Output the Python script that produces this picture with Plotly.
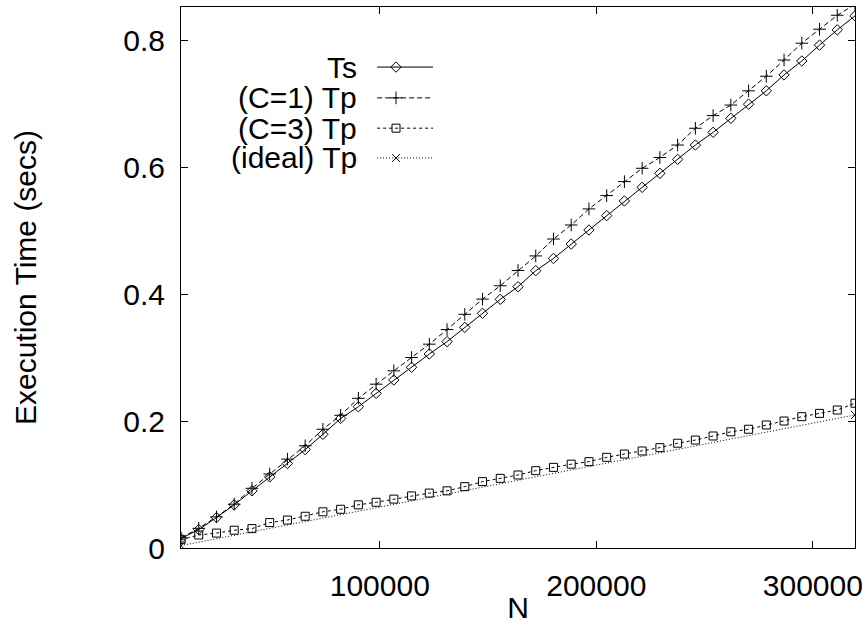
import plotly.graph_objects as go

# ---- data ----
N = [8192 * (i + 1) for i in range(39)]

ts = [0.015, 0.029, 0.048, 0.068, 0.090, 0.112, 0.133, 0.155, 0.179, 0.204,
      0.2225, 0.2436, 0.2646, 0.2846, 0.3055, 0.325, 0.3475, 0.3696, 0.3916, 0.4115,
      0.4367, 0.456, 0.4787, 0.5008, 0.5234, 0.5465, 0.568, 0.590, 0.612, 0.6346,
      0.6546, 0.6767, 0.699, 0.720, 0.745, 0.767, 0.792, 0.816, 0.838]

tp_c1 = [0.016, 0.031, 0.049, 0.069, 0.094, 0.1165, 0.140, 0.161, 0.187, 0.209,
         0.2357, 0.258, 0.279, 0.300, 0.321, 0.344, 0.368, 0.392, 0.413, 0.437,
         0.460, 0.4866, 0.5087, 0.534, 0.555, 0.577, 0.598, 0.615, 0.6346, 0.661,
         0.681, 0.6976, 0.720, 0.743, 0.7685, 0.795, 0.817, 0.839, 0.856]

tp_c3 = [0.013, 0.0205, 0.0235, 0.028, 0.0305, 0.040, 0.044, 0.050, 0.057, 0.061,
         0.068, 0.072, 0.077, 0.082, 0.0865, 0.090, 0.0966, 0.1045, 0.1097, 0.115,
         0.1218, 0.127, 0.132, 0.136, 0.1428, 0.148, 0.1528, 0.158, 0.165, 0.170,
         0.1764, 0.183, 0.187, 0.1937, 0.200, 0.2068, 0.212, 0.2173, 0.228]

ideal_n = [8192, 319488]
tp_ideal = [0.0038, 0.2095]

x_ticks = [100000, 200000, 300000]
y_ticks = [0, 0.2, 0.4, 0.6, 0.8]
y_tick_labels = ["0", "0.2", "0.4", "0.6", "0.8"]

labels = ["Ts", "(C=1) Tp", "(C=3) Tp", "(ideal) Tp"]

FONT = "Liberation Sans, Arial, sans-serif"
FS = 30

styles = [
    dict(dash="solid", symbol="diamond-open", size=8),
    dict(dash="5px,3px", symbol="cross-thin-open", size=9),
    dict(dash="3px,3px", symbol="square-open", size=8),
    dict(dash="1px,2px", symbol="x-thin-open", size=8),
]

series = [(N, ts), (N, tp_c1), (N, tp_c3), (ideal_n, tp_ideal)]

fig = go.Figure()
for (xs, ys), st, name in zip(series, styles, labels):
    fig.add_trace(go.Scatter(
        x=xs, y=ys, mode="lines+markers", name=name, showlegend=False,
        line=dict(color="black", width=1, dash=st["dash"]),
        marker=dict(symbol=st["symbol"], size=st["size"], color="black",
                    line=dict(color="black", width=1)),
        cliponaxis=True,
    ))

# ---- custom gnuplot-style key (text left, sample right) ----
key_y = [0.889, 0.832, 0.776, 0.721]
key_text_x = 0.264
key_line_x = [0.291, 0.374]
key_mark_x = 0.319
for st, name, ky in zip(styles, labels, key_y):
    fig.add_trace(go.Scatter(
        x=key_line_x, y=[ky, ky], mode="lines", xaxis="x2", yaxis="y2",
        showlegend=False, hoverinfo="skip",
        line=dict(color="black", width=1, dash=st["dash"]),
    ))
    fig.add_trace(go.Scatter(
        x=[key_mark_x], y=[ky], mode="markers", xaxis="x2", yaxis="y2",
        showlegend=False, hoverinfo="skip",
        marker=dict(symbol=st["symbol"], size=st["size"], color="black",
                    line=dict(color="black", width=1)),
    ))
    fig.add_annotation(
        x=key_text_x, y=ky, xref="x2", yref="y2", text=name, showarrow=False,
        xanchor="right", yanchor="middle",
        font=dict(family=FONT, size=FS, color="black"),
    )

axis_common = dict(
    showline=True, linecolor="black", linewidth=1, mirror="allticks",
    ticks="inside", ticklen=7, tickwidth=1, tickcolor="black",
    showgrid=False, zeroline=False, automargin=False,
    tickfont=dict(family=FONT, size=FS, color="black"),
)

fig.update_layout(
    width=866, height=624,
    margin=dict(l=181, r=11, t=7, b=76, autoexpand=False),
    paper_bgcolor="white", plot_bgcolor="white",
    font=dict(family=FONT, size=FS, color="black"),
    xaxis=dict(
        range=[8192, 319488], tickvals=x_ticks, ticktext=[str(v) for v in x_ticks],
        ticklabelstandoff=11,
        title=dict(text="N", font=dict(family=FONT, size=FS), standoff=4),
        **axis_common,
    ),
    yaxis=dict(
        range=[0, 0.852], tickvals=y_ticks, ticktext=y_tick_labels,
        ticklabelstandoff=9,
        title=dict(text="Execution Time (secs)", font=dict(family=FONT, size=FS), standoff=77),
        **axis_common,
    ),
    xaxis2=dict(overlaying="x", range=[0, 1], visible=False, fixedrange=True),
    yaxis2=dict(overlaying="y", range=[0, 1], visible=False, fixedrange=True),
)

fig.write_html("out.html", config={"displayModeBar": False},
               post_script="document.body.style.margin='0';document.body.style.padding='0';")
